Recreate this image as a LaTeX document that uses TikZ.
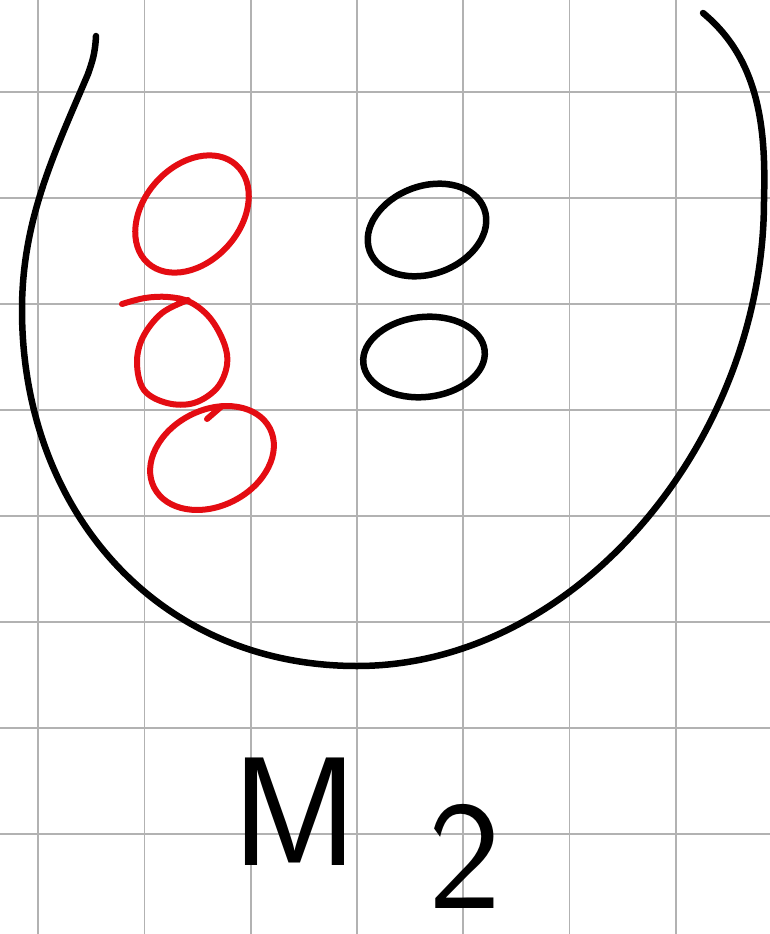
\documentclass[tikz,border=0pt]{standalone}
\usepackage{fontspec}
\begin{document}
\begin{tikzpicture}[x=1pt,y=-1pt,
  gridline/.style={draw=black!30, line width=1.4pt},
  inkblack/.style={draw=black, line width=6.5pt, line cap=round, line join=round},
  inkred/.style={draw=inkredcol, line width=6pt, line cap=round, line join=round},
  hand/.style={font=\sffamily\fontsize{155}{155}\selectfont, inner sep=0pt, anchor=base}]
\definecolor{inkredcol}{RGB}{228,12,18}
\useasboundingbox (0,0) rectangle (770,934);
\fill[white] (0,0) rectangle (770,934);
% grid paper
\foreach \gx in {38,144.5,251,357,463,569.5,676}
  \draw[gridline] (\gx,0) -- (\gx,934);
\foreach \gy in {92,198,304,410,516,622,728,834}
  \draw[gridline] (0,\gy) -- (770,\gy);
% big U-shaped set boundary
\draw[inkblack] (96,36) .. controls (95,55) and (92,62) .. (88,74)
  .. controls (54,154) and (22,220) .. (22,310)
  .. controls (22,510) and (157,666) .. (357,666)
  .. controls (577,666) and (764,440) .. (764,200)
  .. controls (766,130) and (760,60) .. (703,13);
% red elements
\draw[inkred, rotate around={48:(192,214)}] (192,214) ellipse [x radius=66, y radius=48];
\draw[inkred] plot[smooth, tension=0.6] coordinates {
  (122,304) (145,298) (168,297) (190,302) (210,318) (224,343) (227,365)
  (217,388) (194,403) (167,403) (144,390) (137,363) (143,337) (162,313) (188,300)};
\draw[inkred, rotate around={27:(212,458)}] (212,458) ellipse [x radius=65, y radius=48];
\draw[inkred] (207,419) -- (222,406);
% black elements
\draw[inkblack, rotate around={20:(427,230)}] (427,230) ellipse [x radius=61, y radius=44];
\draw[inkblack, rotate around={6:(424,357)}] (424,357) ellipse [x radius=61, y radius=40];
% label
\node[hand] (mlabel) at (295,865) {M};
\node[hand] (sublabel) at (465,908) {2};
\end{tikzpicture}
\end{document}
